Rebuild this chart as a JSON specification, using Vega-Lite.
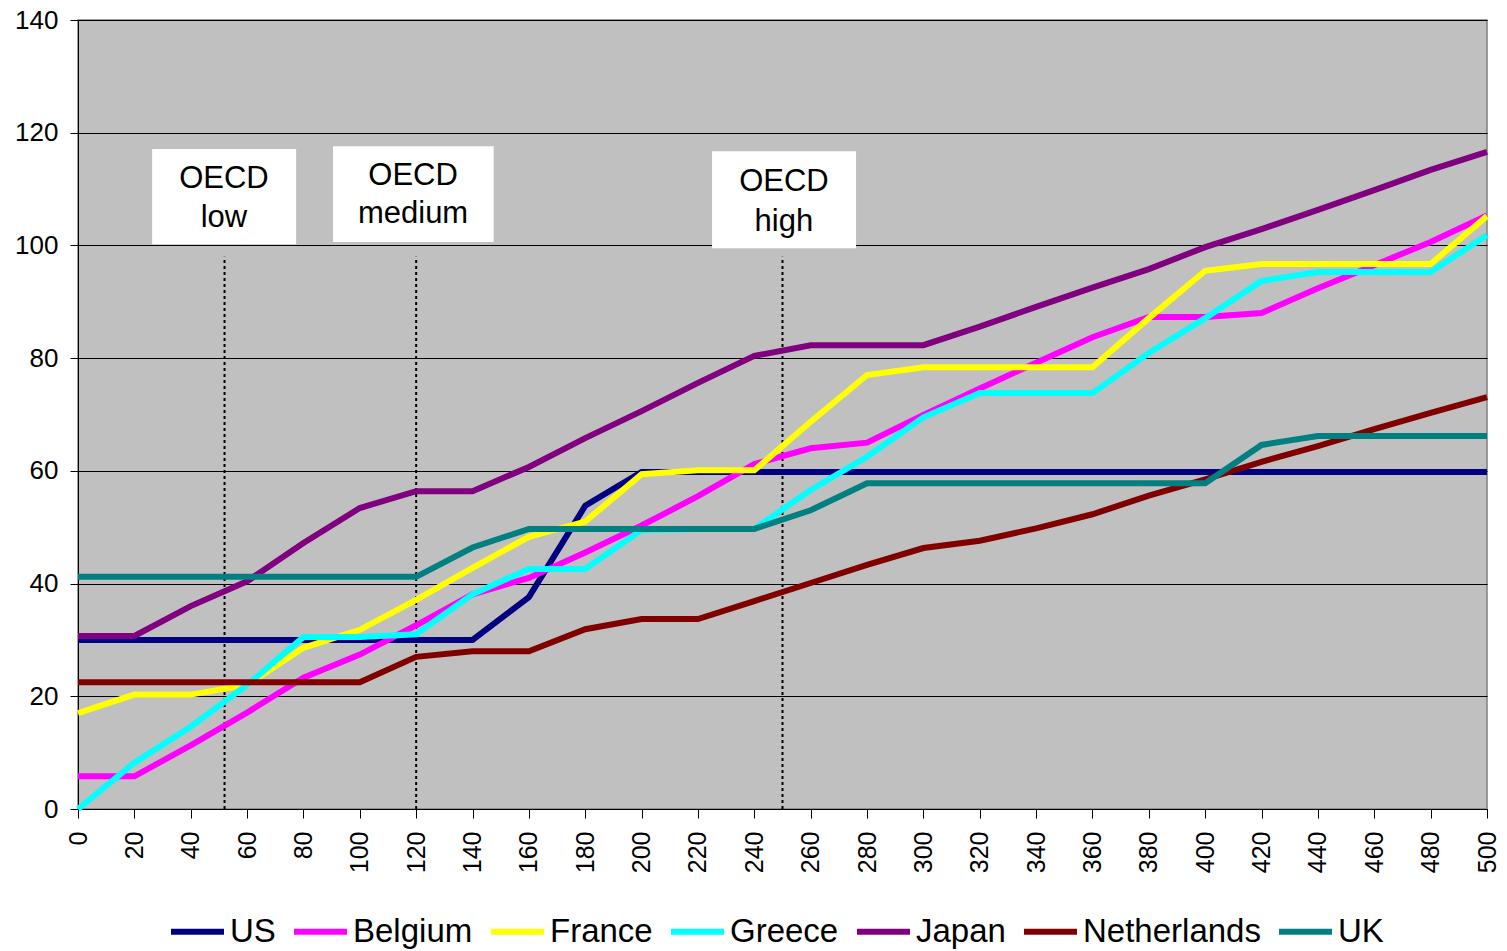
{
  "width": 1409,
  "height": 789,
  "autosize": {"type": "none"},
  "padding": {"left": 78, "top": 20, "right": 20, "bottom": 142},
  "background": "white",
  "config": {
    "font": "Liberation Sans",
    "view": {"fill": "#C0C0C0", "stroke": "#808080", "strokeWidth": 1.5},
    "axis": {"labelFont": "Liberation Sans", "labelColor": "black", "domainColor": "black", "tickColor": "black", "title": null}
  },
  "datasets": {
    "series": [
      {"country": "US", "x": 0, "v": 30}, {"country": "US", "x": 20, "v": 30}, {"country": "US", "x": 40, "v": 30}, {"country": "US", "x": 60, "v": 30}, {"country": "US", "x": 80, "v": 30}, {"country": "US", "x": 100, "v": 30}, {"country": "US", "x": 120, "v": 30}, {"country": "US", "x": 140, "v": 30}, {"country": "US", "x": 160, "v": 37.6}, {"country": "US", "x": 180, "v": 53.8}, {"country": "US", "x": 200, "v": 59.8}, {"country": "US", "x": 220, "v": 59.8}, {"country": "US", "x": 240, "v": 59.8}, {"country": "US", "x": 260, "v": 59.8}, {"country": "US", "x": 280, "v": 59.8}, {"country": "US", "x": 300, "v": 59.8}, {"country": "US", "x": 320, "v": 59.8}, {"country": "US", "x": 340, "v": 59.8}, {"country": "US", "x": 360, "v": 59.8}, {"country": "US", "x": 380, "v": 59.8}, {"country": "US", "x": 400, "v": 59.8}, {"country": "US", "x": 420, "v": 59.8}, {"country": "US", "x": 440, "v": 59.8}, {"country": "US", "x": 460, "v": 59.8}, {"country": "US", "x": 480, "v": 59.8}, {"country": "US", "x": 500, "v": 59.8},
      {"country": "Belgium", "x": 0, "v": 5.8}, {"country": "Belgium", "x": 20, "v": 5.8}, {"country": "Belgium", "x": 40, "v": 11.3}, {"country": "Belgium", "x": 60, "v": 17.1}, {"country": "Belgium", "x": 80, "v": 23.3}, {"country": "Belgium", "x": 100, "v": 27.4}, {"country": "Belgium", "x": 120, "v": 32.6}, {"country": "Belgium", "x": 140, "v": 38.1}, {"country": "Belgium", "x": 160, "v": 41.0}, {"country": "Belgium", "x": 180, "v": 45.5}, {"country": "Belgium", "x": 200, "v": 50.3}, {"country": "Belgium", "x": 220, "v": 55.5}, {"country": "Belgium", "x": 240, "v": 61.2}, {"country": "Belgium", "x": 260, "v": 64.0}, {"country": "Belgium", "x": 280, "v": 65.0}, {"country": "Belgium", "x": 300, "v": 69.9}, {"country": "Belgium", "x": 320, "v": 74.6}, {"country": "Belgium", "x": 340, "v": 79.2}, {"country": "Belgium", "x": 360, "v": 83.7}, {"country": "Belgium", "x": 380, "v": 87.3}, {"country": "Belgium", "x": 400, "v": 87.3}, {"country": "Belgium", "x": 420, "v": 88.0}, {"country": "Belgium", "x": 440, "v": 92.4}, {"country": "Belgium", "x": 460, "v": 96.5}, {"country": "Belgium", "x": 480, "v": 100.6}, {"country": "Belgium", "x": 500, "v": 105.3},
      {"country": "France", "x": 0, "v": 17.0}, {"country": "France", "x": 20, "v": 20.3}, {"country": "France", "x": 40, "v": 20.3}, {"country": "France", "x": 60, "v": 22.0}, {"country": "France", "x": 80, "v": 28.6}, {"country": "France", "x": 100, "v": 31.8}, {"country": "France", "x": 120, "v": 37.1}, {"country": "France", "x": 140, "v": 42.8}, {"country": "France", "x": 160, "v": 48.3}, {"country": "France", "x": 180, "v": 51.0}, {"country": "France", "x": 200, "v": 59.4}, {"country": "France", "x": 220, "v": 60.1}, {"country": "France", "x": 240, "v": 60.1}, {"country": "France", "x": 260, "v": 68.7}, {"country": "France", "x": 280, "v": 77.0}, {"country": "France", "x": 300, "v": 78.4}, {"country": "France", "x": 320, "v": 78.4}, {"country": "France", "x": 340, "v": 78.4}, {"country": "France", "x": 360, "v": 78.4}, {"country": "France", "x": 380, "v": 87.1}, {"country": "France", "x": 400, "v": 95.5}, {"country": "France", "x": 420, "v": 96.7}, {"country": "France", "x": 440, "v": 96.7}, {"country": "France", "x": 460, "v": 96.7}, {"country": "France", "x": 480, "v": 96.7}, {"country": "France", "x": 500, "v": 105.2},
      {"country": "Greece", "x": 0, "v": 0}, {"country": "Greece", "x": 20, "v": 8.2}, {"country": "Greece", "x": 40, "v": 14.6}, {"country": "Greece", "x": 60, "v": 22.0}, {"country": "Greece", "x": 80, "v": 30.5}, {"country": "Greece", "x": 100, "v": 30.5}, {"country": "Greece", "x": 120, "v": 31.0}, {"country": "Greece", "x": 140, "v": 38.1}, {"country": "Greece", "x": 160, "v": 42.6}, {"country": "Greece", "x": 180, "v": 42.6}, {"country": "Greece", "x": 200, "v": 49.5}, {"country": "Greece", "x": 220, "v": 49.7}, {"country": "Greece", "x": 240, "v": 49.7}, {"country": "Greece", "x": 260, "v": 56.6}, {"country": "Greece", "x": 280, "v": 62.5}, {"country": "Greece", "x": 300, "v": 69.5}, {"country": "Greece", "x": 320, "v": 73.8}, {"country": "Greece", "x": 340, "v": 73.8}, {"country": "Greece", "x": 360, "v": 73.8}, {"country": "Greece", "x": 380, "v": 80.9}, {"country": "Greece", "x": 400, "v": 87.1}, {"country": "Greece", "x": 420, "v": 93.7}, {"country": "Greece", "x": 440, "v": 95.3}, {"country": "Greece", "x": 460, "v": 95.3}, {"country": "Greece", "x": 480, "v": 95.3}, {"country": "Greece", "x": 500, "v": 101.8},
      {"country": "Japan", "x": 0, "v": 30.7}, {"country": "Japan", "x": 20, "v": 30.7}, {"country": "Japan", "x": 40, "v": 36.0}, {"country": "Japan", "x": 60, "v": 40.4}, {"country": "Japan", "x": 80, "v": 47.2}, {"country": "Japan", "x": 100, "v": 53.4}, {"country": "Japan", "x": 120, "v": 56.4}, {"country": "Japan", "x": 140, "v": 56.4}, {"country": "Japan", "x": 160, "v": 60.7}, {"country": "Japan", "x": 180, "v": 65.8}, {"country": "Japan", "x": 200, "v": 70.6}, {"country": "Japan", "x": 220, "v": 75.6}, {"country": "Japan", "x": 240, "v": 80.4}, {"country": "Japan", "x": 260, "v": 82.3}, {"country": "Japan", "x": 280, "v": 82.3}, {"country": "Japan", "x": 300, "v": 82.3}, {"country": "Japan", "x": 320, "v": 85.6}, {"country": "Japan", "x": 340, "v": 89.1}, {"country": "Japan", "x": 360, "v": 92.5}, {"country": "Japan", "x": 380, "v": 95.8}, {"country": "Japan", "x": 400, "v": 99.7}, {"country": "Japan", "x": 420, "v": 102.9}, {"country": "Japan", "x": 440, "v": 106.3}, {"country": "Japan", "x": 460, "v": 109.8}, {"country": "Japan", "x": 480, "v": 113.4}, {"country": "Japan", "x": 500, "v": 116.6},
      {"country": "Netherlands", "x": 0, "v": 22.5}, {"country": "Netherlands", "x": 20, "v": 22.5}, {"country": "Netherlands", "x": 40, "v": 22.5}, {"country": "Netherlands", "x": 60, "v": 22.5}, {"country": "Netherlands", "x": 80, "v": 22.5}, {"country": "Netherlands", "x": 100, "v": 22.5}, {"country": "Netherlands", "x": 120, "v": 27.0}, {"country": "Netherlands", "x": 140, "v": 28.0}, {"country": "Netherlands", "x": 160, "v": 28.0}, {"country": "Netherlands", "x": 180, "v": 31.9}, {"country": "Netherlands", "x": 200, "v": 33.7}, {"country": "Netherlands", "x": 220, "v": 33.7}, {"country": "Netherlands", "x": 240, "v": 36.9}, {"country": "Netherlands", "x": 260, "v": 40.1}, {"country": "Netherlands", "x": 280, "v": 43.3}, {"country": "Netherlands", "x": 300, "v": 46.3}, {"country": "Netherlands", "x": 320, "v": 47.6}, {"country": "Netherlands", "x": 340, "v": 49.8}, {"country": "Netherlands", "x": 360, "v": 52.3}, {"country": "Netherlands", "x": 380, "v": 55.6}, {"country": "Netherlands", "x": 400, "v": 58.5}, {"country": "Netherlands", "x": 420, "v": 61.6}, {"country": "Netherlands", "x": 440, "v": 64.4}, {"country": "Netherlands", "x": 460, "v": 67.4}, {"country": "Netherlands", "x": 480, "v": 70.3}, {"country": "Netherlands", "x": 500, "v": 73.1},
      {"country": "UK", "x": 0, "v": 41.2}, {"country": "UK", "x": 20, "v": 41.2}, {"country": "UK", "x": 40, "v": 41.2}, {"country": "UK", "x": 60, "v": 41.2}, {"country": "UK", "x": 80, "v": 41.2}, {"country": "UK", "x": 100, "v": 41.2}, {"country": "UK", "x": 120, "v": 41.2}, {"country": "UK", "x": 140, "v": 46.4}, {"country": "UK", "x": 160, "v": 49.7}, {"country": "UK", "x": 180, "v": 49.7}, {"country": "UK", "x": 200, "v": 49.7}, {"country": "UK", "x": 220, "v": 49.7}, {"country": "UK", "x": 240, "v": 49.7}, {"country": "UK", "x": 260, "v": 53.0}, {"country": "UK", "x": 280, "v": 57.8}, {"country": "UK", "x": 300, "v": 57.8}, {"country": "UK", "x": 320, "v": 57.8}, {"country": "UK", "x": 340, "v": 57.8}, {"country": "UK", "x": 360, "v": 57.8}, {"country": "UK", "x": 380, "v": 57.8}, {"country": "UK", "x": 400, "v": 57.8}, {"country": "UK", "x": 420, "v": 64.6}, {"country": "UK", "x": 440, "v": 66.2}, {"country": "UK", "x": 460, "v": 66.2}, {"country": "UK", "x": 480, "v": 66.2}, {"country": "UK", "x": 500, "v": 66.2}
    ],
    "boxes": [
      {"name": "low", "left": 26.3, "right": 77.4, "bottom": 100.2, "top": 117.1},
      {"name": "medium", "left": 90.5, "right": 147.5, "bottom": 100.6, "top": 117.6},
      {"name": "high", "left": 225.0, "right": 276.1, "bottom": 99.5, "top": 116.7}
    ],
    "markers": [
      {"x": 52, "bottom": 0, "top": 98},
      {"x": 120, "bottom": 0, "top": 98},
      {"x": 250, "bottom": 0, "top": 98}
    ],
    "labels": [
      {"x": 51.8, "y": 110.2, "text": "OECD"},
      {"x": 51.8, "y": 103.3, "text": "low"},
      {"x": 118.9, "y": 110.7, "text": "OECD"},
      {"x": 118.9, "y": 104.0, "text": "medium"},
      {"x": 250.5, "y": 109.6, "text": "OECD"},
      {"x": 250.5, "y": 102.6, "text": "high"}
    ]
  },
  "layer": [
    {
      "data": {"name": "boxes"},
      "mark": {"type": "rect", "fill": "white"},
      "encoding": {
        "x": {"field": "left", "type": "quantitative", "scale": {"domain": [0, 500], "nice": false, "zero": false},
              "axis": {"values": [0,20,40,60,80,100,120,140,160,180,200,220,240,260,280,300,320,340,360,380,400,420,440,460,480,500], "labelAngle": -90, "labelFontSize": 25, "tickSize": 9, "labelPadding": 13, "grid": false}},
        "x2": {"field": "right"},
        "y": {"field": "bottom", "type": "quantitative", "scale": {"domain": [0, 140], "nice": false},
              "axis": {"values": [0,20,40,60,80,100,120,140], "labelFontSize": 26, "tickSize": 8, "labelPadding": 12, "grid": true, "gridColor": "black", "gridWidth": 1, "gridOpacity": 1}},
        "y2": {"field": "top"}
      }
    },
    {
      "data": {"name": "markers"},
      "mark": {"type": "rule", "color": "black", "strokeWidth": 2, "strokeDash": [3, 3]},
      "encoding": {
        "x": {"field": "x", "type": "quantitative"},
        "y": {"field": "bottom", "type": "quantitative"},
        "y2": {"field": "top"}
      }
    },
    {
      "data": {"name": "series"},
      "mark": {"type": "line", "strokeWidth": 6},
      "encoding": {
        "x": {"field": "x", "type": "quantitative"},
        "y": {"field": "v", "type": "quantitative"},
        "color": {
          "field": "country", "type": "nominal",
          "scale": {"domain": ["US", "Belgium", "France", "Greece", "Japan", "Netherlands", "UK"],
                    "range": ["#000080", "#FF00FF", "#FFFF00", "#00FFFF", "#800080", "#800000", "#008080"]},
          "legend": {"title": null, "orient": "none", "legendX": 90, "legendY": 882, "direction": "horizontal",
                     "symbolType": "stroke", "symbolSize": 2809, "symbolStrokeWidth": 6,
                     "labelFontSize": 33, "labelFont": "Liberation Sans", "labelColor": "black", "labelOffset": 3,
                     "columnPadding": 6, "padding": 0, "labelLimit": 0}
        }
      }
    },
    {
      "data": {"name": "labels"},
      "mark": {"type": "text", "fontSize": 31, "font": "Liberation Sans", "color": "black", "align": "center", "baseline": "alphabetic"},
      "encoding": {
        "x": {"field": "x", "type": "quantitative"},
        "y": {"field": "y", "type": "quantitative"},
        "text": {"field": "text"}
      }
    }
  ]
}
